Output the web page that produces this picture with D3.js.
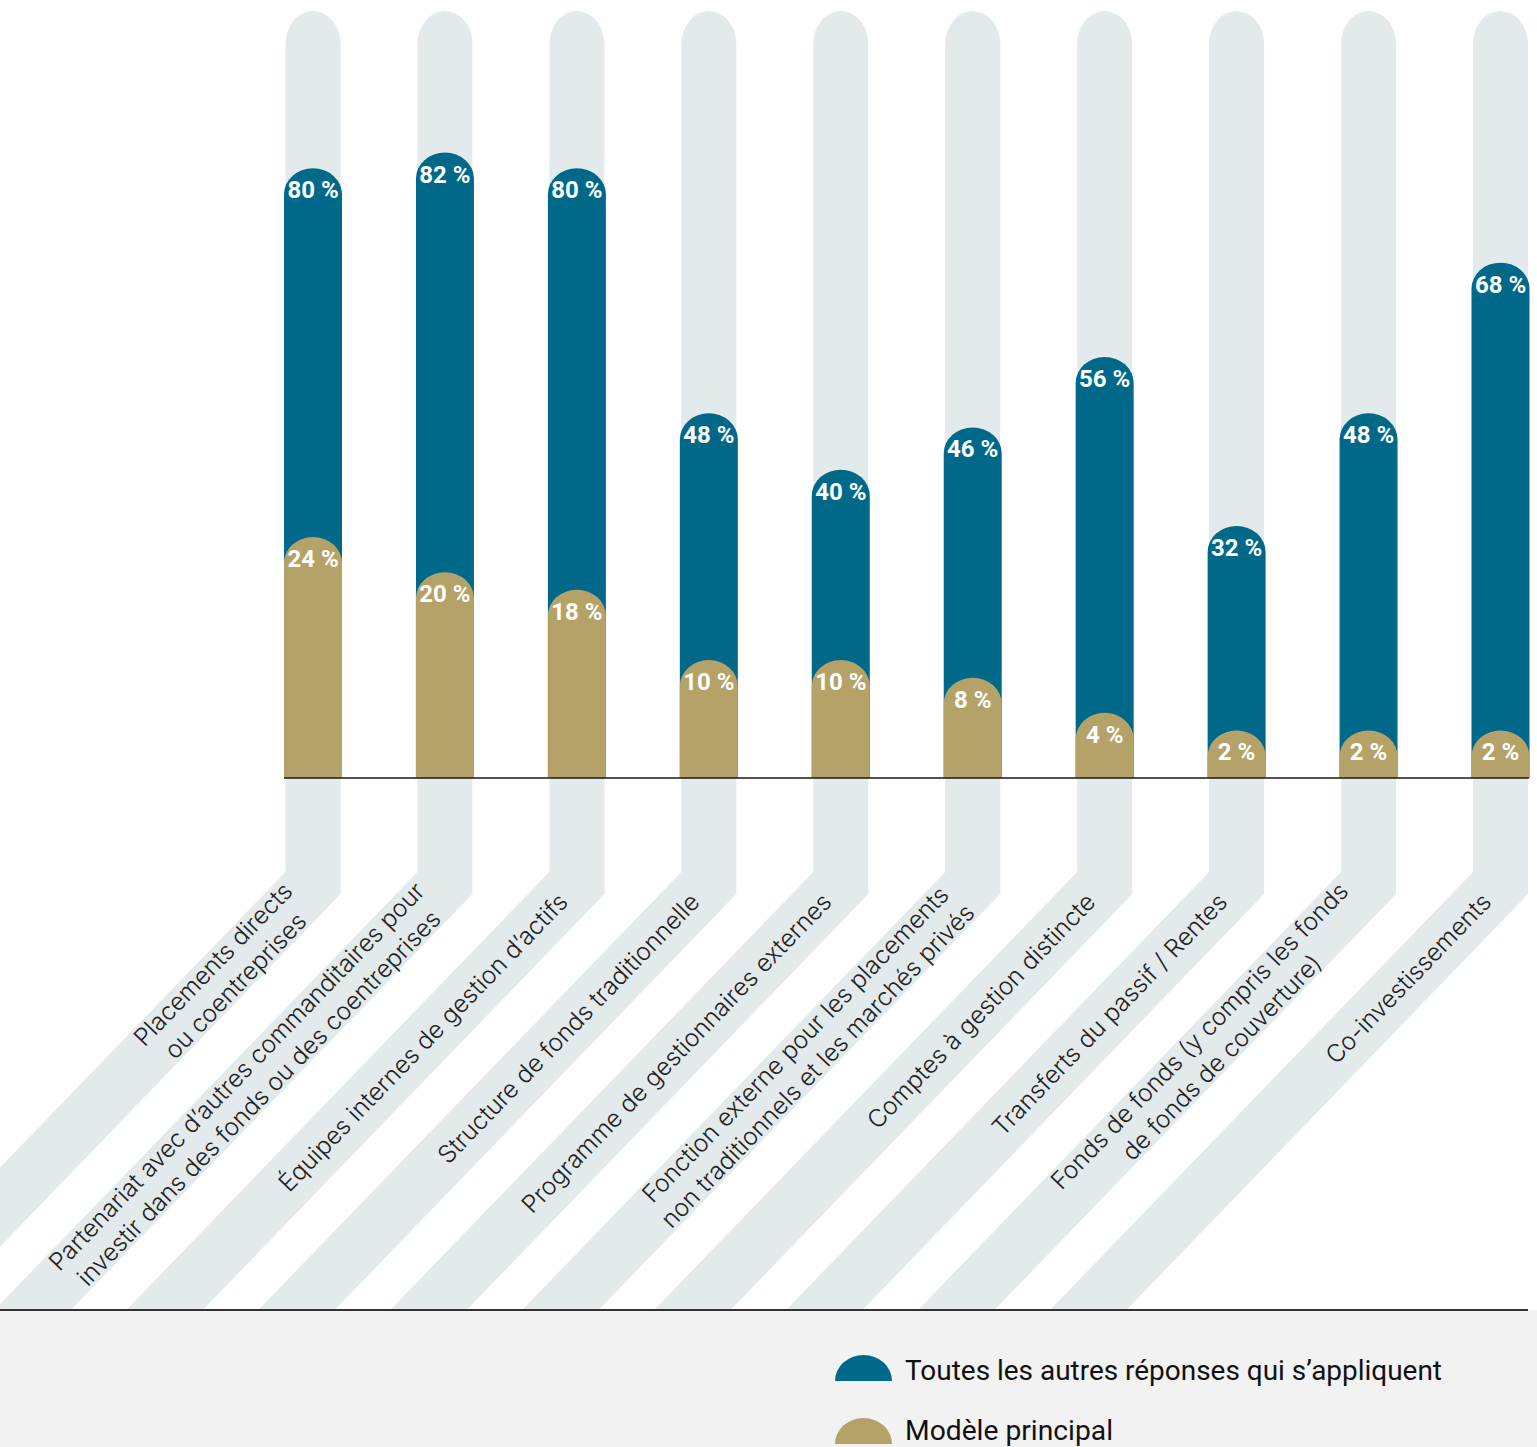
<!DOCTYPE html>
<html><head><meta charset="utf-8">
<script src="https://cdn.jsdelivr.net/npm/d3@7"></script>
<style>body{margin:0;background:#fff}svg{display:block}</style>
</head><body>
<svg id="chart" width="1537" height="1447"></svg>
<script>
// ---- data ----
const categories = [
  "Placements directs ou coentreprises",
  "Partenariat avec d’autres commanditaires pour investir dans des fonds ou des coentreprises",
  "Équipes internes de gestion d’actifs",
  "Structure de fonds traditionnelle",
  "Programme de gestionnaires externes",
  "Fonction externe pour les placements non traditionnels et les marchés privés",
  "Comptes à gestion distincte",
  "Transferts du passif / Rentes",
  "Fonds de fonds (y compris les fonds de fonds de couverture)",
  "Co-investissements"
];
const labelLines = [
  ["Placements directs", "ou coentreprises"],
  ["Partenariat avec d’autres commanditaires pour", "investir dans des fonds ou des coentreprises"],
  ["Équipes internes de gestion d’actifs"],
  ["Structure de fonds traditionnelle"],
  ["Programme de gestionnaires externes"],
  ["Fonction externe pour les placements", "non traditionnels et les marchés privés"],
  ["Comptes à gestion distincte"],
  ["Transferts du passif / Rentes"],
  ["Fonds de fonds (y compris les fonds", "de fonds de couverture)"],
  ["Co-investissements"]
];
const allApplicable = [80, 82, 80, 48, 40, 46, 56, 32, 48, 68];
const mainModel     = [24, 20, 18, 10, 10, 8, 4, 2, 2, 2];
const seriesNames = ["Toutes les autres réponses qui s’appliquent", "Modèle principal"];
const maxValue = 100;

// ---- layout / style ----
const W = 1537, H = 1447;
const baseY = 778, bendY = 883, bottomY = 1310;
const barW = 58, trackW = 55, barRy = 26, trackRy = 33;
const angle = 46 * Math.PI / 180;
const dirDown = [-Math.cos(angle), Math.sin(angle)];
const cBlue = "#00698a", cGold = "#b5a269", cTrack = "#e2eaec", cLegendBg = "#f2f2f2";

const svg = d3.select("#chart");
const x = d3.scalePoint().domain(categories).range([313, 1500.5]);
// the picture's value axis (not strictly proportional in the original artwork)
const y = d3.scaleLinear()
  .domain([0, 24, 32, 56, maxValue])
  .range([baseY - 30, baseY - 241, baseY - 252, baseY - 421, baseY - 767]);

function capPath(cx, w, top, base, ry) {
  const x0 = cx - w / 2, x1 = cx + w / 2;
  return `M${x0},${base}L${x0},${top + ry}A${w / 2},${ry} 0 0 1 ${x1},${top + ry}L${x1},${base}Z`;
}

// legend background
svg.append("rect").attr("x", 0).attr("y", bottomY).attr("width", W).attr("height", H - bottomY).attr("fill", cLegendBg);

// clip for tracks
svg.append("defs").append("clipPath").attr("id", "clipTop")
  .append("rect").attr("x", 0).attr("y", 0).attr("width", W).attr("height", bottomY);

const tracks = svg.append("g").attr("clip-path", "url(#clipTop)");
categories.forEach((c) => {
  const cx = x(c);
  const top = y(maxValue);
  tracks.append("path")
    .attr("d", capPath(cx, trackW, top, top + trackRy + 1, trackRy))
    .attr("fill", cTrack);
  const far = 900;
  tracks.append("path")
    .attr("d", `M${cx},${top + trackRy}L${cx},${bendY}L${cx + dirDown[0] * far},${bendY + dirDown[1] * far}`)
    .attr("fill", "none").attr("stroke", cTrack).attr("stroke-width", trackW)
    .attr("stroke-linejoin", "miter").attr("stroke-miterlimit", 10);
});

// bars
const bars = svg.append("g");
function drawSeries(values, color) {
  bars.selectAll(null).data(values).enter().append("path")
    .attr("d", (v, i) => capPath(x(categories[i]), barW, y(v), baseY, barRy))
    .attr("fill", color);
  bars.selectAll(null).data(values).enter().append("text")
    .attr("x", (v, i) => x(categories[i]))
    .attr("y", v => y(v) + 30)
    .attr("text-anchor", "middle")
    .attr("font-family", "Roboto, 'Noto Sans', sans-serif")
    .attr("font-weight", 700).attr("font-size", 24)
    .attr("fill", "#fff")
    .text(v => `${v} %`);
}
drawSeries(allApplicable, cBlue);
drawSeries(mainModel, cGold);

// baseline
svg.append("line").attr("x1", 284).attr("x2", 1529).attr("y1", baseY).attr("y2", baseY)
  .attr("stroke", "#1a1a1a").attr("stroke-width", 1.5);

// category labels
const lineGap = 31, endOffset = 20;
categories.forEach((c, i) => {
  const cx = x(c);
  const ax = cx + dirDown[0] * endOffset, ay = bendY + dirDown[1] * endOffset;
  const g = svg.append("g").attr("transform", `translate(${ax},${ay}) rotate(-46)`);
  const lines = labelLines[i];
  const texts = lines.map((t, j) => g.append("text")
    .attr("y", (j - (lines.length - 1) / 2) * lineGap)
    .attr("dy", "0.35em")
    .attr("text-anchor", "middle")
    .attr("font-family", "Inter, Lato, 'Noto Sans', sans-serif")
    .attr("font-weight", 300).attr("font-size", 24.5)
    .attr("fill", "#222")
    .text(t));
  const maxW = d3.max(texts, t => t.node().getComputedTextLength());
  texts.forEach(t => t.attr("x", -maxW / 2));
});

// bottom rule
svg.append("line").attr("x1", 0).attr("x2", 1528).attr("y1", bottomY).attr("y2", bottomY)
  .attr("stroke", "#333").attr("stroke-width", 2);

// legend
const legend = [
  {name: seriesNames[0], color: cBlue, base: 1381, textY: 1380, len: 537},
  {name: seriesNames[1], color: cGold, base: 1444, textY: 1440, len: 208}
];
legend.forEach(d => {
  svg.append("path").attr("d", capPath(863.5, 57, d.base - 26, d.base, 26)).attr("fill", d.color);
  svg.append("text").attr("x", 905).attr("y", d.textY)
    .attr("font-family", "Roboto, 'Noto Sans', sans-serif")
    .attr("font-size", 27).attr("fill", "#111")
    .attr("textLength", d.len).attr("lengthAdjust", "spacingAndGlyphs")
    .text(d.name);
});
</script>
</body></html>
